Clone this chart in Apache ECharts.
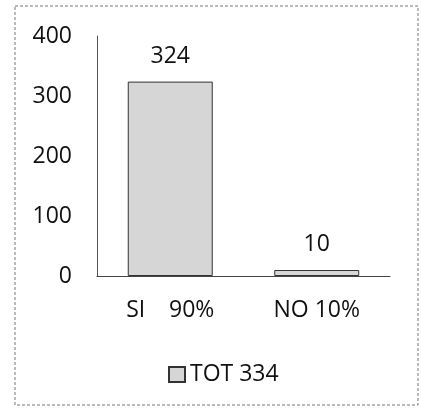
<!DOCTYPE html>
<html><head><meta charset="utf-8">
<script src="https://cdn.jsdelivr.net/npm/echarts@6/dist/echarts.min.js"></script>
<style>html,body{margin:0;padding:0;background:#fff}#c{width:421px;height:408px}</style>
</head><body><div id="c"></div>
<script>
const categories = ['SI    90%', 'NO 10%'];
const values = [324, 10];
const seriesName = 'TOT 334';
const yTicks = [0, 100, 200, 300, 400];

const chart = echarts.init(document.getElementById('c'), null, {renderer: 'canvas'});
const font = '"Open Sans", "Liberation Sans", sans-serif';
chart.setOption({
  backgroundColor: '#fff',
  animation: false,
  graphic: [{
    type: 'rect', shape: {x: 15, y: 6, width: 403, height: 399},
    style: {fill: 'none', stroke: '#777', lineWidth: 1, lineDash: [3, 2]}, silent: true, z: -1
  }],
  grid: {left: 97, right: 31, top: 36, bottom: 132, containLabel: false},
  legend: {
    data: [seriesName], left: 163, top: 358, itemWidth: 16, itemHeight: 15, itemGap: 8,
    textStyle: {fontFamily: font, fontSize: 23, color: '#111'},
    icon: 'rect'
  },
  xAxis: {
    type: 'category', data: categories,
    axisLine: {lineStyle: {color: '#444', width: 1}},
    axisTick: {show: false},
    axisLabel: {fontFamily: font, fontSize: 23, color: '#111', margin: 23}
  },
  yAxis: {
    type: 'value', min: yTicks[0], max: yTicks[yTicks.length - 1], interval: 100,
    axisLine: {show: true, lineStyle: {color: '#555', width: 1}},
    axisTick: {show: false},
    splitLine: {show: false},
    axisLabel: {fontFamily: font, fontSize: 23, color: '#111', margin: 25}
  },
  series: [{
    name: seriesName, type: 'bar', data: values, barWidth: '58%',
    itemStyle: {color: '#d6d6d6', borderColor: '#333', borderWidth: 1},
    label: {show: true, position: 'top', distance: 14, fontFamily: font, fontSize: 23, color: '#111'}
  }]
});
</script></body></html>
